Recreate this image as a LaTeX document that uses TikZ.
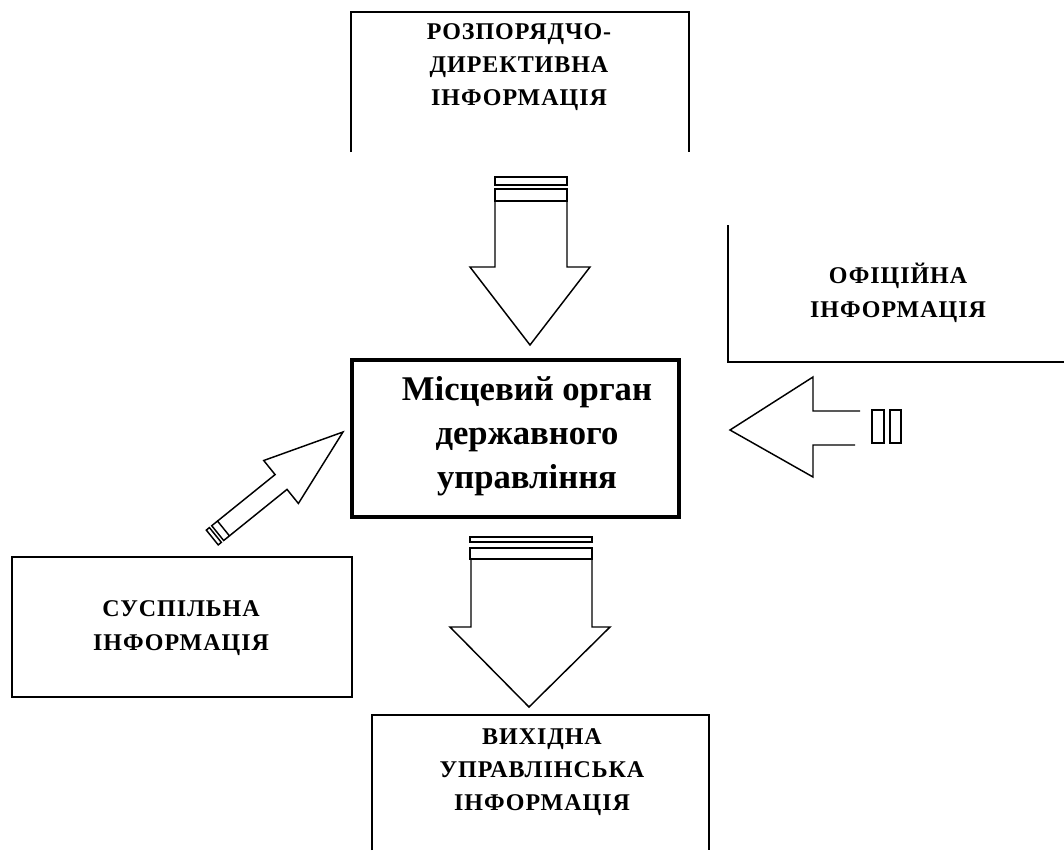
\documentclass[tikz,border=0pt]{standalone}
\usepackage{fontspec}
\setmainfont{Liberation Serif}
\newfontfamily\boxfont[LetterSpace=4]{Liberation Serif}
\begin{document}
\begin{tikzpicture}[x=0.75pt,y=-0.75pt,
  boxline/.style={line width=1.5pt},
  arrowline/.style={line width=1.1pt, line join=miter},
  lbl/.style={align=center, font=\boxfont\fontsize{18}{25}\selectfont\bfseries, inner sep=0pt},
  mainlbl/.style={align=center, font=\fontsize{26}{33}\selectfont\bfseries, inner sep=0pt}]
\useasboundingbox (0,0) rectangle (1064,850);
% top box (open at bottom)
\draw[boxline] (351,152) -- (351,12) -- (689,12) -- (689,152);
\node[lbl] (top) at (519,67) {РОЗПОРЯДЧО-\\ДИРЕКТИВНА\\ІНФОРМАЦІЯ};
% right box (L shape)
\draw[boxline] (728,225) -- (728,362) -- (1064,362);
\node[lbl] (right) at (898,293) {ОФІЦІЙНА\\ІНФОРМАЦІЯ};
% left box
\draw[boxline] (12,557) rectangle (352,697);
\node[lbl] (left) at (181,628) {СУСПІЛЬНА\\ІНФОРМАЦІЯ};
% bottom box (open at bottom)
\draw[boxline] (372,850) -- (372,715) -- (709,715) -- (709,850);
\node[lbl] (bottom) at (542,772) {ВИХІДНА\\УПРАВЛІНСЬКА\\ІНФОРМАЦІЯ};
% central box
\draw[line width=3pt] (352,360) rectangle (679,517);
\node[mainlbl] (centre) at (527,436) {Місцевий орган\\державного\\управління};
% top arrow
\draw[arrowline] (495,177) rectangle (567,185);
\draw[arrowline] (495,189) rectangle (567,201);
\draw[arrowline] (495,201) -- (495,267) -- (470,267) -- (530,345) -- (590,267) -- (567,267) -- (567,201);
% bottom arrow
\draw[arrowline] (470,537) rectangle (592,542);
\draw[arrowline] (470,548) rectangle (592,559);
\draw[arrowline] (471,559) -- (471,627) -- (450,627) -- (529,707) -- (610,627) -- (592,627) -- (592,559);
% right arrow
\draw[arrowline] (860,411) -- (813,411) -- (813,377) -- (730,430) -- (813,477) -- (813,445) -- (855,445);
\draw[arrowline] (872,410) rectangle (884,443);
\draw[arrowline] (890,410) rectangle (901,443);
% diagonal arrow
\begin{scope}[shift={(343,432)}, rotate=38.9]
\draw[arrowline] (-153.6,-9.5) -- (-79.6,-9.5) -- (-79.6,-27.6) -- (0,0) -- (-79.6,27.6) -- (-79.6,9.5) -- (-153.6,9.5);
\draw[arrowline] (-153.6,-9.5) rectangle (-161,9.5);
\draw[arrowline] (-164,-9.5) rectangle (-168,9.5);
\end{scope}
\end{tikzpicture}
\end{document}
